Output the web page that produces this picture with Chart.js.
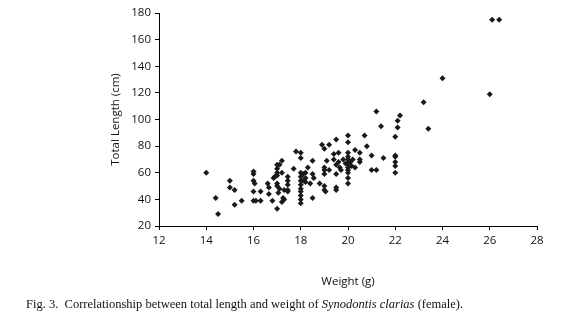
<!DOCTYPE html>
<html>
<head>
<meta charset="utf-8">
<script src="https://cdn.jsdelivr.net/npm/chart.js@4"></script>
<style>
  body { margin: 0; background: #fff; }
  #wrap { position: relative; width: 567px; height: 331px; }
  #caption {
    position: absolute; left: 26px; top: 297px;
    font-family: "Liberation Serif", serif; font-size: 12.5px; color: #111;
    white-space: pre;
  }
</style>
</head>
<body>
<div id="wrap">
  <canvas id="scatter" width="567" height="331"></canvas>
  <div id="caption">Fig. 3.  Correlationship between total length and weight of <i>Synodontis clarias</i> (female).</div>
</div>
<script>
// weight (g) and total length (cm)
const weights = [
  14.0, 14.4, 14.5, 15.0, 15.0, 15.2, 15.2, 15.5,
  16.0, 16.0, 16.0, 16.05, 16.0, 16.0, 16.1, 16.3, 16.3,
  16.6, 16.65, 16.65, 16.8, 16.85, 16.9,
  17.0, 17.0, 17.0, 17.0, 17.0, 17.0, 17.0, 17.05, 17.1, 17.1,
  17.2, 17.2, 17.2, 17.25, 17.3, 17.3,
  17.45, 17.45, 17.45, 17.45, 17.45,
  17.7, 17.8,
  18.0, 18.0, 18.0, 18.0, 18.0, 18.0, 18.0, 18.0, 18.0, 18.0, 18.0,
  18.1, 18.1, 18.2, 18.2, 18.2, 18.3, 18.4, 18.5, 18.5, 18.5, 18.55, 18.8,
  18.9, 19.0, 19.0, 19.0, 19.0, 19.0, 19.0, 19.05,
  19.1, 19.2, 19.2, 19.4, 19.4, 19.5, 19.5, 19.5, 19.5, 19.5,
  19.6, 19.6, 19.65, 19.7, 19.8, 19.9,
  20.0, 20.0, 20.0, 20.0, 20.0, 20.0, 20.0, 20.0, 20.0, 20.0, 20.0,
  20.1, 20.15, 20.2, 20.3, 20.3, 20.5, 20.5, 20.5, 20.7, 20.8,
  21.0, 21.0, 21.2, 21.2, 21.4, 21.5,
  22.0, 22.0, 22.0, 22.0, 22.0, 22.0, 22.1, 22.1, 22.2,
  23.2, 23.4, 24.0, 26.0, 26.1, 26.4
];
const lengths = [
  60, 41, 29, 54, 49, 47, 36, 39,
  61, 59, 54, 52, 46, 39, 39, 46, 39,
  52, 49, 44, 39, 56, 57,
  66, 63, 60, 58, 52, 50, 33, 45, 66, 48,
  69, 60, 38, 41, 47, 40,
  57, 54, 51, 47, 46,
  63, 76,
  75, 71, 60, 57, 54, 51, 48, 46, 43, 40, 37,
  59, 54, 56, 53, 60, 64, 52, 69, 59, 41, 56, 52,
  81, 78, 64, 62, 59, 50, 47, 46,
  69, 62, 81, 74, 70, 85, 66, 59, 49, 47,
  75, 68, 64, 62, 70, 67,
  88, 83, 75, 72, 70, 67, 64, 62, 60, 56, 52,
  68, 65, 70, 77, 64, 75, 70, 68, 88, 80,
  73, 62, 106, 62, 95, 71,
  87, 73, 72, 68, 65, 60, 99, 94, 103,
  113, 93, 131, 119, 175, 175
];
const xTicks = [12, 14, 16, 18, 20, 22, 24, 26, 28];
const yTicks = [20, 40, 60, 80, 100, 120, 140, 160, 180];

const points = weights.map((w, i) => ({ x: w, y: lengths[i] }));
const axisFont = { family: "'Open Sans', sans-serif", size: 11.5 };

const ctx = document.getElementById('scatter').getContext('2d');
new Chart(ctx, {
  type: 'scatter',
  data: {
    datasets: [{
      data: points,
      pointStyle: 'rectRot',
      pointRadius: 3,
      backgroundColor: '#1a1a1a',
      borderColor: '#1a1a1a',
      borderWidth: 0
    }]
  },
  options: {
    responsive: false,
    animation: false,
    layout: { padding: { left: 105, right: 30, top: 13, bottom: 40 } },
    plugins: { legend: { display: false }, tooltip: { enabled: false } },
    scales: {
      x: {
        type: 'linear',
        min: xTicks[0], max: xTicks[xTicks.length - 1],
        afterBuildTicks: s => { s.ticks = xTicks.map(v => ({ value: v })); },
        afterFit: s => { s.height = 65; },
        border: { display: true, color: '#000', width: 1 },
        grid: { drawOnChartArea: false, drawTicks: true, tickLength: 4, color: '#000' },
        ticks: { color: '#111', font: axisFont, maxRotation: 0, padding: 4 },
        title: { display: true, text: 'Weight (g)', color: '#111', font: axisFont, padding: { top: 4, bottom: 2 } }
      },
      y: {
        type: 'linear',
        min: yTicks[0], max: yTicks[yTicks.length - 1],
        afterBuildTicks: s => { s.ticks = yTicks.map(v => ({ value: v })); },
        afterFit: s => { s.width = 54; },
        border: { display: true, color: '#000', width: 1 },
        grid: { drawOnChartArea: false, drawTicks: true, tickLength: 4, color: '#000' },
        ticks: { color: '#111', font: axisFont, padding: 4 },
        title: { display: true, text: 'Total Length (cm)', color: '#111', font: axisFont, padding: { top: 4, bottom: 4 } }
      }
    }
  }
});
</script>
</body>
</html>
